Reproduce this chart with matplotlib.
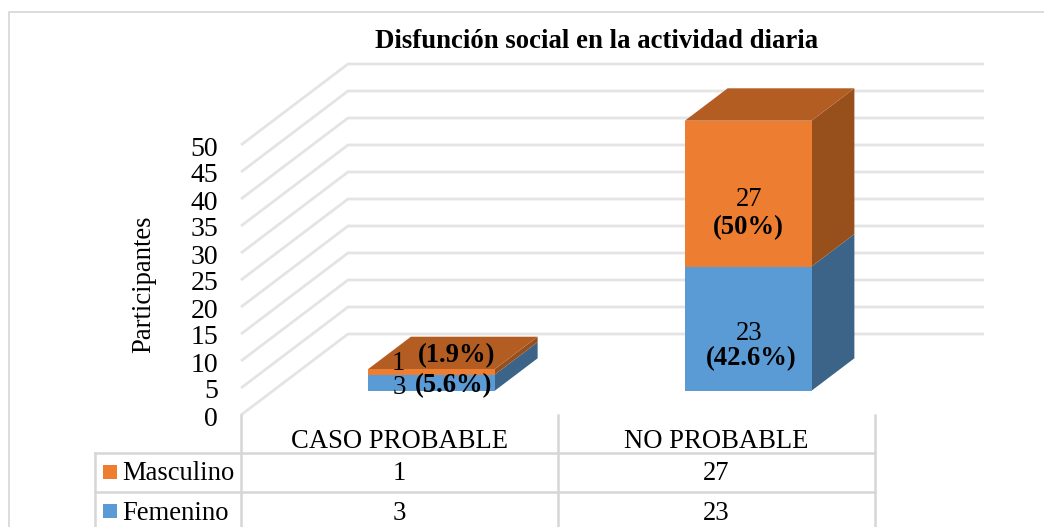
import matplotlib
matplotlib.use("Agg")
import matplotlib.pyplot as plt
from matplotlib.patches import Polygon, Rectangle
from matplotlib.lines import Line2D
from matplotlib.transforms import Affine2D, blended_transform_factory

categories = ["CASO PROBABLE", "NO PROBABLE"]
series_names = ["Femenino", "Masculino"]
femenino = [3, 23]
masculino = [1, 27]
femenino_pct = ["(5.6%)", "(42.6%)"]
masculino_pct = ["(1.9%)", "(50%)"]
y_ticks = [0, 5, 10, 15, 20, 25, 30, 35, 40, 45, 50]

W, H = 1044, 527
plt.rcParams["font.family"] = ["Liberation Serif", "DejaVu Serif"]
fig = plt.figure(figsize=(W / 100, H / 100), dpi=100)
px = Affine2D().scale(1, -1).translate(0, H)

# axes: wall-front plane, 0..50 between y=415 and y=145; categories between x=241 and x=874
L, R, B, T = 241, 874.5, 415, 145
ax = fig.add_axes([L / W, (H - B) / H, (R - L) / W, (B - T) / H])
ax.set_xlim(-0.5, 1.5)
ax.set_ylim(0, 50)
ax.patch.set_visible(False)
for s in ax.spines.values():
    s.set_visible(False)

DX = 107 / (R - L) * 2     # depth shift in category units
DY = 81 / (B - T) * 50     # depth shift in value units
GRID = "#E4E4E4"
TABLE = "#D6D6D6"
BLUE = ("#5B9BD5", "#3B6488")
ORANGE = ("#ED7D31", "#97501C", "#B35D22")
FS = 19.2


def proj(x, v, d):
    return (x + d * DX, v + d * DY)


# walls
for v in y_ticks:
    pts = [proj(-0.5, v, 0), proj(-0.5, v, 1), proj(1.508, v, 1)]
    ax.plot(*zip(*pts), color=GRID, lw=2.0, clip_on=False, zorder=1,
            solid_joinstyle="miter", solid_capstyle="butt")

# bars
BAR_W, D0, D1 = 0.40, 0.30, 0.70
bottoms = [0, 0]
for vals, cols in ((femenino, BLUE), (masculino, ORANGE)):
    for i, val in enumerate(vals):
        b = bottoms[i]
        t = b + val
        xl, xr = i - BAR_W / 2, i + BAR_W / 2
        f0 = proj(xl, b, D0)
        ax.bar(f0[0], t - b, width=BAR_W, bottom=f0[1], align="edge",
               color=cols[0], clip_on=False, zorder=4)
        side = [proj(xr, b, D0), proj(xr, b, D1), proj(xr, t, D1), proj(xr, t, D0)]
        ax.add_patch(Polygon(side, closed=True, fc=cols[1], ec="none", clip_on=False, zorder=3))
        if len(cols) == 3:
            top = [proj(xl, t, D0), proj(xr, t, D0), proj(xr, t, D1), proj(xl, t, D1)]
            ax.add_patch(Polygon(top, closed=True, fc=cols[2], ec="none", clip_on=False, zorder=3))
        bottoms[i] = t

# axis text
ax.set_yticks(y_ticks)
ax.tick_params(axis="y", length=0, pad=16.5, labelsize=20)
down_1px = Affine2D().translate(0, -1)
for lab in ax.get_yticklabels():
    lab.set_transform(lab.get_transform() + down_1px)
ax.set_xticks(range(len(categories)))
ax.set_xticklabels(categories)
ax.tick_params(axis="x", length=0, pad=10, labelsize=FS)
ax.set_ylabel("Participantes", fontsize=19.2)
ax.yaxis.set_label_coords((156 - L) / (R - L), (B - 284) / (B - T))
fig.text(596.5, 42, "Disfunción social en la actividad diaria", transform=px,
         fontsize=19.3, fontweight="bold", ha="center", va="center")

# data labels
kw = dict(transform=px, ha="center", va="center", zorder=6, fontsize=FS)
ax.text(398, 363, str(masculino[0]), **kw)
ax.text(457, 356, masculino_pct[0], fontweight="bold", **kw)
ax.text(399, 388, str(femenino[0]), **kw)
ax.text(454, 386, femenino_pct[0], fontweight="bold", **kw)
ax.text(749, 200, str(masculino[1]), **kw)
ax.text(748, 228, masculino_pct[1], fontweight="bold", **kw)
ax.text(749, 334, str(femenino[1]), **kw)
ax.text(751, 359, femenino_pct[1], fontweight="bold", **kw)

# outer frame and data table grid
grid = [
    ((241, 415), (241, 527)), ((558, 415), (558, 527)), ((875, 415), (875, 527)),
    ((95, 453), (95, 527)), ((95, 453), (875, 453)), ((95, 492), (875, 492)),
]
for (p0, p1) in grid:
    fig.add_artist(Line2D([p0[0], p1[0]], [p0[1], p1[1]], transform=px, color=TABLE, lw=1.8))
fig.add_artist(Line2D([9, 9, 1044], [527, 11.5, 11.5], transform=px, color=TABLE, lw=1.2))

# data table rows
rows = [(series_names[1], masculino, ORANGE[0], 474, 472), (series_names[0], femenino, BLUE[0], 513, 511)]
xpx = blended_transform_factory(ax.transData, px)
for name, vals, col, yc, ys in rows:
    fig.add_artist(Rectangle((103, ys - 7), 14, 14, transform=px, fc=col, ec="none"))
    fig.text(122, yc, name, transform=px, fontsize=FS, ha="left", va="center")
    for i, v in enumerate(vals):
        ax.text(i, yc, str(v), transform=xpx, fontsize=FS, ha="center", va="center")

fig.savefig("out.png", dpi=100)
